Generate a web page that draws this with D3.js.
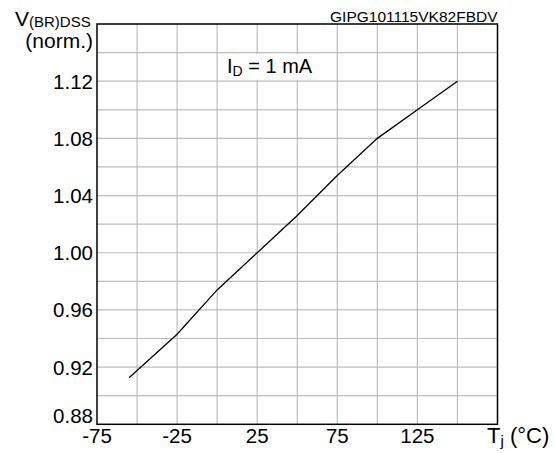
<!DOCTYPE html>
<html>
<head>
<meta charset="utf-8">
<script src="https://cdn.jsdelivr.net/npm/d3@7"></script>
<style>
  body { margin: 0; background: #fff; }
  text { font-family: "Liberation Sans", Arial, sans-serif; fill: #000; }
</style>
</head>
<body>
<div id="chart"></div>
<script>
// values
const tempC = [-55, -25, 0, 25, 50, 75, 100, 125, 150]
const vNorm = [0.9125, 0.943, 0.974, 1.000, 1.026, 1.054, 1.080, 1.100, 1.120]
const xTicks = [-75, -25, 25, 75, 125]
const yTicks = [0.88, 0.92, 0.96, 1.00, 1.04, 1.08, 1.12]

const params = {
  width: 555,
  height: 453,
  left: 97,
  right: 497.5,
  top: 24,
  bottom: 424.3,
}

const svg = d3.select('#chart')
  .append('svg')
  .attr('width', params.width)
  .attr('height', params.height)

const x = d3.scaleLinear().domain([-75, 175]).range([params.left, params.right])
const y = d3.scaleLinear().domain([0.88, 1.16]).range([params.bottom, params.top])

// grid
const grid = svg.append('g')
grid.selectAll('.vg')
  .data(d3.range(-50, 175, 25))
  .enter()
  .append('line')
  .attr('x1', d => x(d)).attr('x2', d => x(d))
  .attr('y1', params.top).attr('y2', params.bottom)
  .attr('stroke', '#bdbdbd')
  .attr('stroke-width', 1.2)

grid.selectAll('.hg')
  .data(d3.range(0.90, 1.159, 0.02))
  .enter()
  .append('line')
  .attr('x1', params.left).attr('x2', params.right)
  .attr('y1', d => y(d)).attr('y2', d => y(d))
  .attr('stroke', '#bdbdbd')
  .attr('stroke-width', 1.2)

// white box behind the annotation
svg.append('rect')
  .attr('x', x(0) + 1.5)
  .attr('y', y(1.14) + 1.5)
  .attr('width', x(75) - x(0) - 3)
  .attr('height', y(1.12) - y(1.14) - 3)
  .attr('fill', '#fff')

// frame
svg.append('rect')
  .attr('x', params.left).attr('y', params.top)
  .attr('width', params.right - params.left)
  .attr('height', params.bottom - params.top)
  .attr('fill', 'none')
  .attr('stroke', '#000')
  .attr('stroke-width', 1.5)

// curve
const line = d3.line()
  .x((d, i) => x(tempC[i]))
  .y(d => y(d))

svg.append('path')
  .datum(vNorm)
  .attr('d', line)
  .attr('fill', 'none')
  .attr('stroke', '#000')
  .attr('stroke-width', 1.3)

// tick labels
svg.selectAll('.xl')
  .data(xTicks)
  .enter()
  .append('text')
  .attr('x', d => x(d))
  .attr('y', 443)
  .attr('text-anchor', 'middle')
  .style('font-size', '20.5px')
  .text(d => d)

// lowest label sits above the axis so it clears the -75
svg.selectAll('.yl')
  .data(yTicks)
  .enter()
  .append('text')
  .attr('x', params.left - 4)
  .attr('y', d => d === 0.88 ? params.bottom - 1.5 : y(d) + 7.5)
  .attr('text-anchor', 'end')
  .style('font-size', '20.5px')
  .text(d => d.toFixed(2))

// axis titles
const yt = svg.append('text').attr('x', 15).attr('y', 26).style('font-size', '21px')
yt.append('tspan').text('V')
yt.append('tspan').attr('dy', 1).style('font-size', '15px').text('(BR)DSS')

svg.append('text')
  .attr('x', 93).attr('y', 48)
  .attr('text-anchor', 'end')
  .style('font-size', '21px')
  .text('(norm.)')

const xt = svg.append('text').attr('x', 487).attr('y', 443).style('font-size', '22px')
xt.append('tspan').text('T')
xt.append('tspan').attr('dy', 3).style('font-size', '15px').text('j')
xt.append('tspan').attr('dy', -3).text(' (°C)')

// annotation
const ann = svg.append('text').attr('x', 227).attr('y', 73).style('font-size', '20px')
ann.append('tspan').text('I')
ann.append('tspan').attr('dy', 3).style('font-size', '14px').text('D')
ann.append('tspan').attr('dy', -3).text(' = 1 mA')

svg.append('text')
  .attr('x', params.right).attr('y', 22)
  .attr('text-anchor', 'end')
  .style('font-size', '15.5px')
  .text('GIPG101115VK82FBDV')
</script>
</body>
</html>
